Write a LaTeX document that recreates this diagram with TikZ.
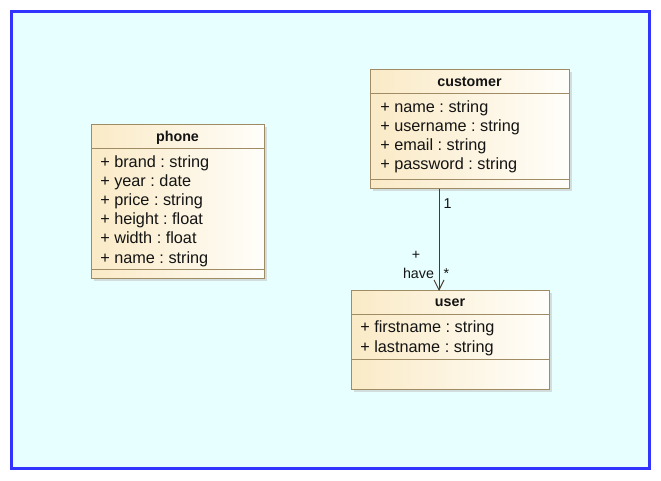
\documentclass[tikz,border=0pt]{standalone}
\usepackage{fontspec}
\setmainfont{Liberation Sans}
\usetikzlibrary{arrows.meta}
\frenchspacing
\definecolor{bgcyan}{RGB}{232,255,255}
\definecolor{frameblue}{RGB}{51,51,255}
\definecolor{boxline}{RGB}{160,140,100}
\definecolor{boxleft}{RGB}{250,234,198}
\definecolor{boxright}{RGB}{255,254,250}
\definecolor{shadowc}{RGB}{210,222,222}
\definecolor{txt}{RGB}{20,20,20}
\definecolor{conn}{RGB}{70,60,45}
\tikzset{
  classbox/.style={draw=boxline, line width=0.75pt, left color=boxleft, right color=boxright,
    anchor=north west, inner sep=0pt, outer sep=0pt},
  shadowbox/.style={fill=shadowc, draw=none, anchor=north west, inner sep=0pt, outer sep=0pt},
  sepline/.style={draw=boxline, line width=0.75pt},
  hdr/.style={anchor=base, inner sep=0pt, font=\fontsize{10.7pt}{12pt}\selectfont\bfseries, text=txt},
  attr/.style={anchor=base west, inner sep=0pt, font=\fontsize{12.2pt}{14pt}\selectfont, text=txt},
  lbl/.style={anchor=base, inner sep=0pt, font=\fontsize{10.7pt}{12pt}\selectfont, text=txt},
  assoc/.style={draw=conn, line width=0.75pt, -{Straight Barb[length=7.5pt,width=7.5pt]}}
}
\begin{document}
\begin{tikzpicture}[x=0.75pt,y=-0.75pt]
\useasboundingbox (0,0) rectangle (661,481);
\fill[white] (0,0) rectangle (661,481);
\draw[frameblue, line width=2.4pt, fill=bgcyan] (11.5,11.5) rectangle (649.5,468.5);
% phone
\node[shadowbox, minimum width=173*0.75pt, minimum height=154*0.75pt] (phoneshadow) at (93.5,127.5) {};
\node[classbox, minimum width=173*0.75pt, minimum height=154*0.75pt] (phone) at (91,125) {};
\draw[sepline] (91,149) -- (264,149);
\draw[sepline] (91,270) -- (264,270);
\node[hdr] (phonehdr) at (177.5,141.5) {phone};
\node[attr] (p1) at (100,168) {+ brand : string};
\node[attr] (p2) at (100,187) {+ year : date};
\node[attr] (p3) at (100,206) {+ price : string};
\node[attr] (p4) at (100,225) {+ height : float};
\node[attr] (p5) at (100,244) {+ width : float};
\node[attr] (p6) at (100,263) {+ name : string};
% customer
\node[shadowbox, minimum width=199*0.75pt, minimum height=119*0.75pt] (custshadow) at (372.5,72.5) {};
\node[classbox, minimum width=199*0.75pt, minimum height=119*0.75pt] (customer) at (370,70) {};
\draw[sepline] (370,94) -- (569,94);
\draw[sepline] (370,180) -- (569,180);
\node[hdr] (custhdr) at (469.5,86.5) {customer};
\node[attr] (c1) at (380,113) {+ name : string};
\node[attr] (c2) at (380,132) {+ username : string};
\node[attr] (c3) at (380,151) {+ email : string};
\node[attr] (c4) at (380,170) {+ password : string};
% user
\node[shadowbox, minimum width=198*0.75pt, minimum height=98*0.75pt] (usershadow) at (353.5,293.5) {};
\node[classbox, minimum width=198*0.75pt, minimum height=98*0.75pt] (user) at (351,291) {};
\draw[sepline] (351,314) -- (549,314);
\draw[sepline] (351,359) -- (549,359);
\node[hdr] (userhdr) at (450,306.5) {user};
\node[attr] (u1) at (360,333) {+ firstname : string};
\node[attr] (u2) at (360,352) {+ lastname : string};
% association
\coordinate (ax) at (439,0);
\draw[assoc] (customer.south -| ax) -- (user.north -| ax);
\node[lbl] (m1) at (447.5,209) {1};
\node[lbl] (rplus) at (416,260) {+};
\node[lbl] (rhave) at (418.5,278) {have};
\node[lbl] (mstar) at (446.5,278) {*};
\end{tikzpicture}
\end{document}
